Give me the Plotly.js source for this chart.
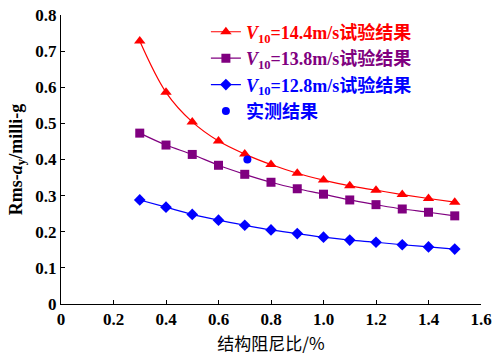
<!DOCTYPE html>
<html>
<head>
<meta charset="utf-8">
<script src="https://cdn.plot.ly/plotly-3.0.1.min.js"></script>
<style>html,body{margin:0;padding:0;background:#fff;}#chart{width:493px;height:359px;}</style>
</head>
<body>
<div id="chart"></div>
<script>
const damping = [0.3,0.4,0.5,0.6,0.7,0.8,0.9,1.0,1.1,1.2,1.3,1.4,1.5];
const v144 = [0.728,0.586,0.504,0.451,0.415,0.386,0.362,0.343,0.327,0.315,0.303,0.292,0.282];
const v138 = [0.473,0.440,0.414,0.384,0.359,0.337,0.319,0.304,0.288,0.275,0.263,0.254,0.244];
const v128 = [0.288,0.268,0.248,0.232,0.218,0.205,0.195,0.185,0.177,0.171,0.164,0.158,0.152];
const measuredX = [0.71];
const measuredY = [0.40];
const xTickVals = [0,0.2,0.4,0.6,0.8,1.0,1.2,1.4,1.6];
const xTickText = ['0','0.2','0.4','0.6','0.8','1.0','1.2','1.4','1.6'];
const yTickVals = [0,0.1,0.2,0.3,0.4,0.5,0.6,0.7,0.8];
const yTickText = ['0','0.1','0.2','0.3','0.4','0.5','0.6','0.7','0.8'];
const names = [
  '<span style="color:#ff0000"><b><i>V</i><sub>10</sub>=14.4m/s试验结果</b></span>',
  '<span style="color:#800080"><b><i>V</i><sub>10</sub>=13.8m/s试验结果</b></span>',
  '<span style="color:#0000ff"><b><i>V</i><sub>10</sub>=12.8m/s试验结果</b></span>',
  '<span style="color:#0000ff"><b>实测结果</b></span>'
];
const FONT = 'Liberation Serif, Noto Sans CJK SC, serif';
const traces = [
  {x: damping, y: v144, name: names[0], mode: 'lines+markers', line: {color: '#ff0000', width: 1.2, shape: 'spline'}, marker: {symbol: 'triangle-up', size: 10, color: '#ff0000'}},
  {x: damping, y: v138, name: names[1], mode: 'lines+markers', line: {color: '#800080', width: 1.2, shape: 'spline'}, marker: {symbol: 'square', size: 9, color: '#800080'}},
  {x: damping, y: v128, name: names[2], mode: 'lines+markers', line: {color: '#0000ff', width: 1.2, shape: 'spline'}, marker: {symbol: 'diamond', size: 9, color: '#0000ff'}},
  {x: measuredX, y: measuredY, name: names[3], mode: 'markers', marker: {symbol: 'circle', size: 8, color: '#0000ff'}}
];
const layout = {
  width: 493, height: 359,
  margin: {l: 61, r: 12, t: 15, b: 55},
  paper_bgcolor: '#fff', plot_bgcolor: '#fff',
  font: {family: FONT, size: 15, color: '#000'},
  showlegend: true,
  legend: {x: 0.345, y: 1.005, xanchor: 'left', yanchor: 'top', bgcolor: 'rgba(0,0,0,0)', font: {family: FONT, size: 18}, tracegroupgap: 0, itemwidth: 30},
  xaxis: {
    range: [0, 1.6], tickvals: xTickVals, ticktext: xTickText,
    showgrid: false, zeroline: false, showline: true, linecolor: '#000', linewidth: 1,
    ticks: 'inside', ticklen: 4, tickcolor: '#000',
    tickfont: {family: FONT, size: 17, weight: 'bold'},
    title: {text: '结构阻尼比/%', font: {family: 'Noto Sans CJK SC, sans-serif', size: 17}, standoff: 9}
  },
  yaxis: {
    range: [0, 0.8], tickvals: yTickVals, ticktext: yTickText,
    showgrid: false, zeroline: false, showline: true, linecolor: '#000', linewidth: 1,
    ticks: 'inside', ticklen: 4, tickcolor: '#000',
    tickfont: {family: FONT, size: 17, weight: 'bold'},
    title: {text: '<b>Rms-<i>a</i><sub>y</sub>/milli-g</b>', font: {family: FONT, size: 18}, standoff: 8}
  }
};
Plotly.newPlot('chart', traces, layout, {displayModeBar: false, staticPlot: true});
</script>
</body>
</html>
